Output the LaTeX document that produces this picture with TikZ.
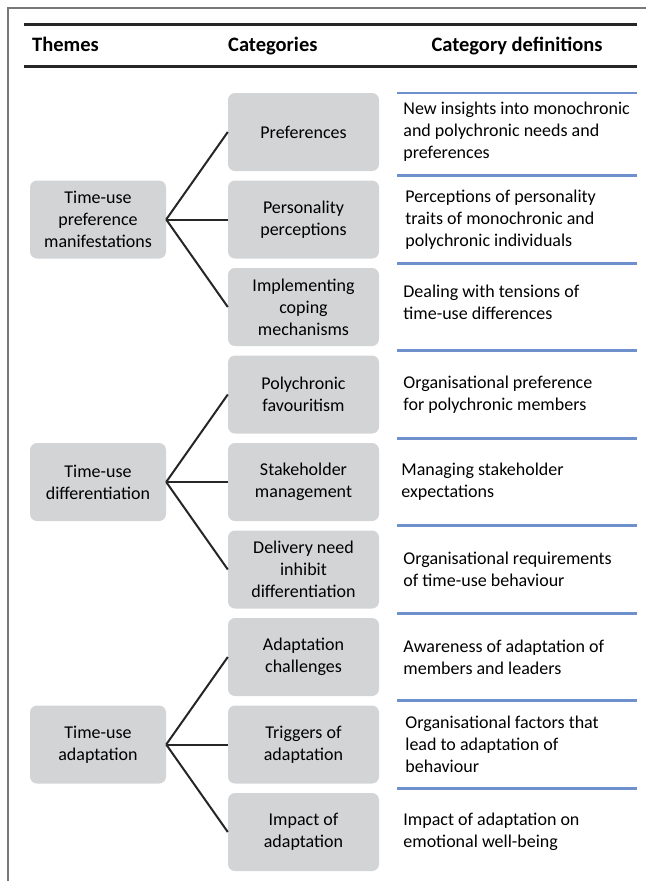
\documentclass[tikz,border=0pt]{standalone}
\usepackage{fontspec}
\setmainfont{Carlito}
\usetikzlibrary{positioning}

\begin{document}
\begin{tikzpicture}[x=1pt, y=-1pt,
    font=\fontsize{18}{22}\selectfont,
    catbox/.style={fill=boxgray, rounded corners=7pt, minimum width=151pt,
        minimum height=78pt, inner sep=0pt, align=center},
    themebox/.style={catbox, minimum width=136pt},
    defn/.style={anchor=west, align=left, inner sep=0pt},
    head/.style={anchor=base west, inner sep=0pt, font=\fontsize{20.5}{24}\selectfont\bfseries},
    branch/.style={line width=2pt, black!85},
    sepline/.style={line width=2.6pt, sepblue}]

    % Define custom colors
    \definecolor{boxgray}{RGB}{211, 212, 214}
    \definecolor{sepblue}{RGB}{110, 145, 205}
    \definecolor{framegray}{RGB}{120, 120, 120}

    \useasboundingbox (0,0) rectangle (646,881);

    % 1. Outer frame (left and top only)
    \draw[framegray, line width=1.6pt] (8,881) -- (8,8) -- (646,8);

    % 2. Header rules and titles
    \draw[line width=3pt, black!85] (24,24) -- (637,24);
    \draw[line width=3pt, black!85] (24,66) -- (637,66);
    \node[head] (hthemes) at (32,51) {Themes};
    \node[head] (hcats) at (228,51) {Categories};
    \node[head, anchor=base] (hdefs) at (517,51) {Category definitions};

    % 3. Category boxes
    \node[catbox] (pref) at (303.5,132) {Preferences};
    \node[catbox] (perc) at (303.5,219.5) {Personality\\perceptions};
    \node[catbox] (cope) at (303.5,307) {Implementing\\coping\\mechanisms};
    \node[catbox] (favo) at (303.5,394.5) {Polychronic\\favouritism};
    \node[catbox] (stak) at (303.5,482) {Stakeholder\\management};
    \node[catbox] (deli) at (303.5,569.5) {Delivery need\\inhibit\\differentiation};
    \node[catbox] (chal) at (303.5,657) {Adaptation\\challenges};
    \node[catbox] (trig) at (303.5,744.5) {Triggers of\\adaptation};
    \node[catbox] (impa) at (303.5,832) {Impact of\\adaptation};

    % 4. Theme boxes (level with the middle category)
    \node[themebox] (manif) at (98,219.5) {Time-use\\preference\\manifestations};
    \node[themebox] (diffe) at (98,482) {Time-use\\differentiation};
    \node[themebox] (adapt) at (98,744.5) {Time-use\\adaptation};

    % 5. Branches theme -> categories
    \draw[branch] (manif.east) -- (pref.west);
    \draw[branch] (manif.east) -- (perc.west);
    \draw[branch] (manif.east) -- (cope.west);
    \draw[branch] (diffe.east) -- (favo.west);
    \draw[branch] (diffe.east) -- (stak.west);
    \draw[branch] (diffe.east) -- (deli.west);
    \draw[branch] (adapt.east) -- (chal.west);
    \draw[branch] (adapt.east) -- (trig.west);
    \draw[branch] (adapt.east) -- (impa.west);

    % 6. Blue separators of the definition column
    \draw[sepline] (397,93) -- (637,93);
    \draw[sepline] (397,175.75) -- (637,175.75);
    \draw[sepline] (397,263.25) -- (637,263.25);
    \draw[sepline] (397,350.75) -- (637,350.75);
    \draw[sepline] (397,438.25) -- (637,438.25);
    \draw[sepline] (397,525.75) -- (637,525.75);
    \draw[sepline] (397,613.25) -- (637,613.25);
    \draw[sepline] (397,700.75) -- (637,700.75);
    \draw[sepline] (397,788.25) -- (637,788.25);

    % 7. Definitions
    \node[defn, right=24pt of pref] (dpref) {New insights into monochronic\\and polychronic needs and\\preferences};
    \node[defn, right=26pt of perc] (dperc) {Perceptions of personality\\traits of monochronic and\\polychronic individuals};
    \node[defn, right=24pt of cope, yshift=5pt] (dcope) {Dealing with tensions of\\time-use differences};
    \node[defn, right=24pt of favo] (dfavo) {Organisational preference\\for polychronic members};
    \node[defn, right=22pt of stak] (dstak) {Managing stakeholder\\expectations};
    \node[defn, right=24pt of deli] (ddeli) {Organisational requirements\\of time-use behaviour};
    \node[defn, right=24pt of chal] (dchal) {Awareness of adaptation of\\members and leaders};
    \node[defn, right=26pt of trig] (dtrig) {Organisational factors that\\lead to adaptation of\\behaviour};
    \node[defn, right=24pt of impa] (dimpa) {Impact of adaptation on\\emotional well-being};

\end{tikzpicture}
\end{document}
